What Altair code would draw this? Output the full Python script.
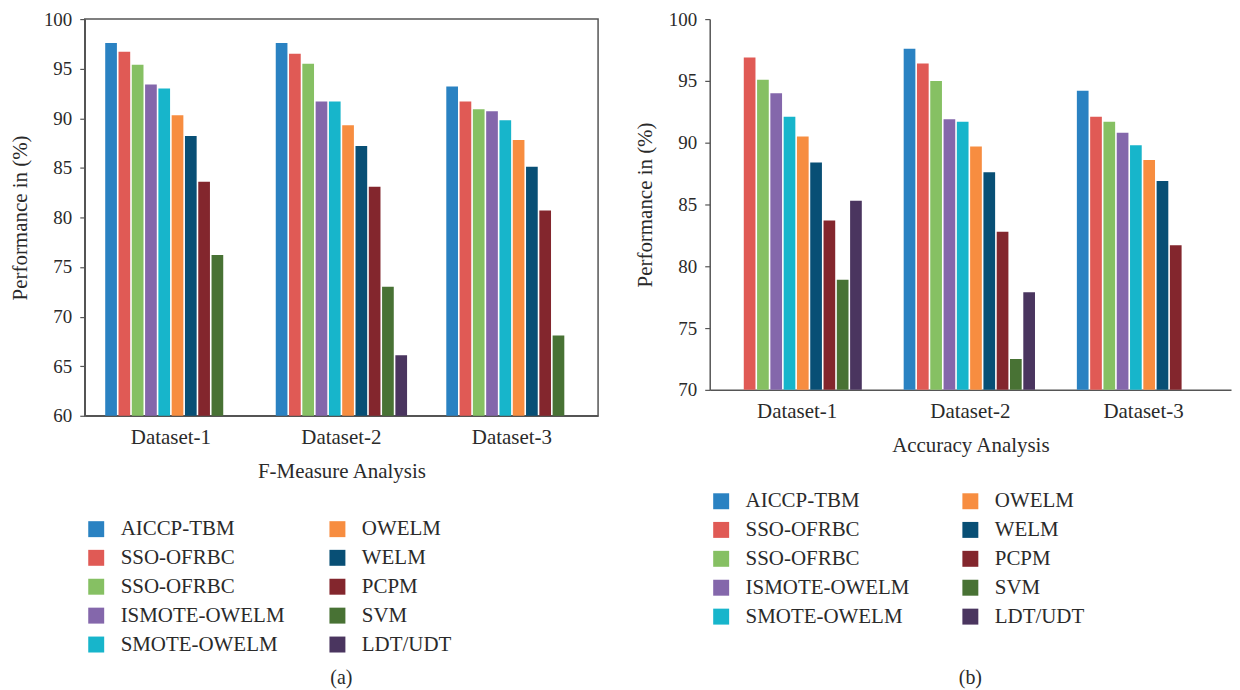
import altair as alt
import pandas as pd

datasets = ["Dataset-1", "Dataset-2", "Dataset-3"]
series = ["AICCP-TBM", "SSO-OFRBC", "SSO-OFRBC ", "ISMOTE-OWELM", "SMOTE-OWELM",
          "OWELM", "WELM", "PCPM", "SVM", "LDT/UDT"]
colors = ["#2a82c2", "#e05a55", "#86c063", "#8467ab", "#17b5cb",
          "#f78d40", "#084f75", "#83262d", "#487234", "#4a355f"]

# F-Measure analysis (panel a); None = bar not shown
fm_d1 = [97.6, 96.7, 95.4, 93.4, 93.0, 90.3, 88.2, 83.6, 76.2, None]
fm_d2 = [97.6, 96.5, 95.5, 91.7, 91.7, 89.3, 87.2, 83.1, 73.0, 66.1]
fm_d3 = [93.2, 91.7, 90.9, 90.7, 89.8, 87.8, 85.1, 80.7, 68.1, None]

# Accuracy analysis (panel b)
acc_d1 = [None, 96.9, 95.1, 94.0, 92.1, 90.5, 88.4, 83.7, 78.9, 85.3]
acc_d2 = [97.6, 96.4, 95.0, 91.9, 91.7, 89.7, 87.6, 82.8, 72.5, 77.9]
acc_d3 = [94.2, 92.1, 91.7, 90.8, 89.8, 88.6, 86.9, 81.7, None, None]

fm_ticks = [60, 65, 70, 75, 80, 85, 90, 95, 100]
acc_ticks = [70, 75, 80, 85, 90, 95, 100]

FONT = "Liberation Serif"
TXT = "#2a2a2a"
AXC = "#555555"


def make_df(cols):
    rows = []
    for ds, vals in zip(datasets, cols):
        for s, v in zip(series, vals):
            if v is not None:
                rows.append({"dataset": ds, "series": s, "value": v})
    return pd.DataFrame(rows)


def panel(df, ymin, ticks, width, height, xtitle, caption, leg_y, col_pad,
          boxed, cap_offset):
    return alt.Chart(df).mark_bar(clip=True).encode(
        x=alt.X("dataset:N", sort=datasets,
                scale=alt.Scale(paddingInner=0.23, paddingOuter=0.12),
                axis=alt.Axis(title=xtitle, ticks=False, labelAngle=0,
                              labelPadding=11, titlePadding=13,
                              labelFontSize=21, titleFontSize=21,
                              titleFontWeight="normal", labelColor=TXT,
                              titleColor=TXT, domainColor=AXC,
                              domainWidth=1.5, labelFont=FONT,
                              titleFont=FONT)),
        xOffset=alt.XOffset("series:N",
                            scale=alt.Scale(domain=series, paddingInner=0.12)),
        y=alt.Y("value:Q",
                scale=alt.Scale(domain=[ymin, 100], zero=False, nice=False),
                axis=alt.Axis(title="Performance in (%)", values=ticks,
                              grid=False, tickSize=5, tickColor=AXC,
                              tickWidth=1.2, labelPadding=8, titlePadding=13,
                              labelFontSize=19, titleFontSize=21,
                              titleFontWeight="normal", labelColor=TXT,
                              titleColor=TXT, domainColor=AXC,
                              domainWidth=1.5, labelFont=FONT,
                              titleFont=FONT)),
        color=alt.Color("series:N",
                        scale=alt.Scale(domain=series, range=colors),
                        legend=alt.Legend(
                            title=None, orient="none", legendX=1,
                            legendY=leg_y, columns=2,
                            symbolType="square", symbolSize=256,
                            symbolStrokeWidth=0, labelFontSize=21,
                            labelFont=FONT, labelColor=TXT, labelOffset=14,
                            rowPadding=7, columnPadding=col_pad, padding=0,
                            labelLimit=300)),
    ).properties(
        width=width, height=height,
        title=alt.TitleParams(caption, orient="bottom", anchor="middle",
                              fontSize=20, font=FONT, fontWeight="normal",
                              color=TXT, offset=cap_offset),
        view=alt.ViewBackground(stroke=AXC if boxed else "transparent",
                                strokeWidth=1.5),
    )


left = panel(make_df([fm_d1, fm_d2, fm_d3]), 60, fm_ticks, 515, 398,
             "F-Measure Analysis", "(a)", 501, 42, True, 13)
right = panel(make_df([acc_d1, acc_d2, acc_d3]), 70, acc_ticks, 523, 372,
              "Accuracy Analysis", "(b)", 473, 50, False, 41)

chart = alt.hconcat(left, right, spacing=34).resolve_legend(
    color="independent"
).resolve_scale(color="independent").properties(
    padding={"left": 0, "top": 0, "right": 0, "bottom": 0}
).configure(font=FONT)

chart.save("out.html", embed_options={"renderer": "svg", "actions": False})
